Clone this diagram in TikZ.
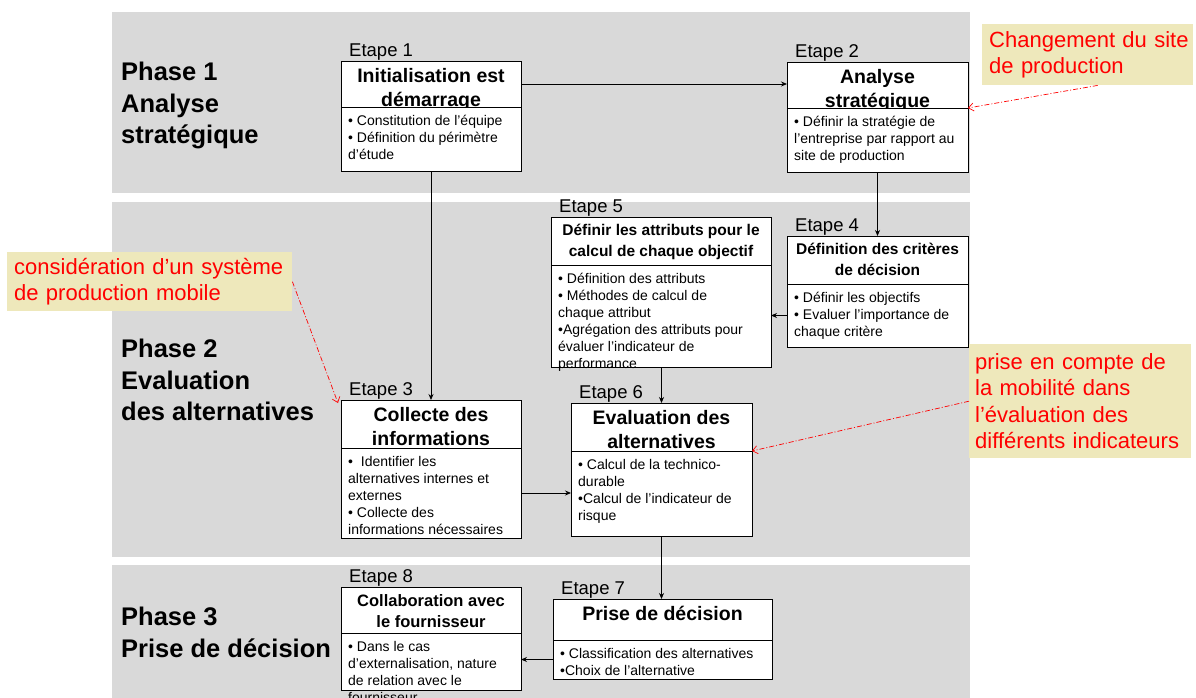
\documentclass[tikz,border=0pt]{standalone}
\usepackage{fontspec}
\setmainfont{Liberation Sans}
\usepackage{xcolor}
\usetikzlibrary{arrows.meta,positioning,calc}
\definecolor{bandgris}{HTML}{D9D9D9}
\definecolor{notefond}{HTML}{EEE8BB}
\tikzset{
  bande/.style={fill=bandgris, inner sep=0pt, outer sep=0pt, anchor=north west},
  cadre/.style={draw, fill=white, line width=0.9pt, inner sep=0pt, outer sep=0pt},
  titre/.style={font=\bfseries\fontsize{19.5}{24.5}\selectfont, align=center, inner sep=0pt},
  petit/.style={font=\bfseries\fontsize{15.5}{21}\selectfont},
  moyen/.style={font=\bfseries\fontsize{16.5}{21}\selectfont},
  corps/.style={font=\fontsize{14}{17}\selectfont, align=left, inner sep=0pt},
  etq/.style={font=\fontsize{18.5}{20}\selectfont, inner sep=0pt},
  phase/.style={font=\bfseries\fontsize{25.5}{31.5}\selectfont, align=left, inner sep=0pt, anchor=north west},
  note/.style={fill=notefond, text=red, font=\fontsize{22}{26.5}\selectfont, align=left, inner sep=0pt, anchor=north west},
  fl/.style={-{Stealth[length=6pt, width=5pt]}, line width=0.8pt},
  flr/.style={red, line width=0.7pt, dash pattern=on 5pt off 2pt on 1pt off 2pt, -{Straight Barb[length=5pt, width=8pt]}},
}
% #1 name, #2 top left, #3 width, #4 height, #5 title height, #6 number, #7 title style, #8 title, #9 body
\newcommand{\etape}[9]{%
  \node[cadre, minimum width=#3, minimum height=#5, anchor=north west] (#1-t) at (#2) {};
  \node[titre, #7, anchor=north] (#1-tt) at ($(#1-t.north)+(0,7)$) {#8};
  \node[cadre, minimum width=#3, minimum height=#4-#5, anchor=north west] (#1-b) at (#1-t.south west) {};
  \node[corps, anchor=north west] (#1-c) at ($(#1-b.north west)+(7,8)$) {#9};
  \node[etq, anchor=base west] (#1-l) at ($(#1-t.north west)+(8,-4.5)$) {Etape #6};
}

\begin{document}
\begin{tikzpicture}[x=1pt, y=-1pt]
  \path[use as bounding box, fill=white] (0,0) rectangle (1196,698);
  % phases
  \node[bande, minimum width=858, minimum height=181] (ph1) at (112,12) {};
  \node[bande, minimum width=858, minimum height=355] (ph2) at (112,202) {};
  \node[bande, minimum width=858, minimum height=140] (ph3) at (112,565) {};
  \node[phase] (p1) at (121,62) {Phase 1\\Analyse\\stratégique};
  \node[phase] (p2) at (121,339) {Phase 2\\Evaluation\\des alternatives};
  \node[phase] (p3) at (121,607) {Phase 3\\Prise de décision};

  % etapes
  \etape{s1}{341,61}{180}{110}{46}{1}{}{Initialisation est\\démarrage}{• Constitution de l’équipe\\• Définition du périmètre\\d’étude}
  \etape{s2}{787,62}{181}{110}{46}{2}{}{Analyse\\stratégique}{• Définir la stratégie de\\l’entreprise par rapport au\\site de production}
  \etape{s5}{551,217}{220}{150}{48}{5}{petit}{Définir les attributs pour le\\calcul de chaque objectif}{• Définition des attributs\\• Méthodes de calcul de\\chaque attribut\\•Agrégation des attributs pour\\évaluer l’indicateur de\\performance}
  \etape{s4}{787,236}{181}{111}{48}{4}{petit}{Définition des critères\\de décision}{• Définir les objectifs\\• Evaluer l’importance de\\chaque critère}
  \etape{s3}{341,400}{180}{138}{48}{3}{}{Collecte des\\informations}{•\ \ Identifier les\\alternatives internes et\\externes\\• Collecte des\\informations nécessaires}
  \etape{s6}{571,403}{181}{133}{48}{6}{}{Evaluation des\\alternatives}{• Calcul de la technico-\\durable\\•Calcul de l’indicateur de\\risque}
  \etape{s8}{341,587}{180}{103}{46}{8}{moyen}{Collaboration avec\\le fournisseur}{• Dans le cas\\d’externalisation, nature\\de relation avec le\\fournisseur}
  \etape{s7}{553,599}{219}{80}{41}{7}{}{Prise de décision}{• Classification des alternatives\\•Choix de l’alternative}

  \draw[fl] (s1-t.east) -- (s1-t.east -| s2-t.west);
  \draw[fl] (s2-b.south) -- (s4-t.north);
  \draw[fl] (s4-b.west) -- (s4-b.west -| s5-b.east);
  \draw[fl] (s1-b.south) -- (s1-b.south |- s3-t.north);
  \draw[fl] (s6-t.north |- s5-b.south) -- (s6-t.north);
  \draw[fl] (s3-b.east) -- (s3-b.east -| s6-b.west);
  \draw[fl] (s6-b.south) -- (s6-b.south |- s7-t.north);
  \draw[fl] (s7-b.west) -- (s7-b.west -| s8-b.east);

  % remarques
  \node[note, minimum width=211, minimum height=61, text width=205] (chg) at (982,24) {\hspace*{4pt}Changement du site\\\hspace*{4pt}de production};
  \node[note, minimum width=285, minimum height=59, text width=271] (cons) at (7,252) {considération d’un système\\de production mobile};
  \node[note, minimum width=222, minimum height=114, text width=210] (prise) at (969,344) {prise en compte de\\la mobilité dans\\l’évaluation des\\différents indicateurs};
  \draw[flr] ($(chg.south)+(10,0)$) -- (s2-t.south east);
  \draw[flr] (cons.east) -- ($(s3-t.north west)+(-3,3)$);
  \draw[flr] (prise.west) -- (s6-t.south east);
\end{tikzpicture}
\end{document}
